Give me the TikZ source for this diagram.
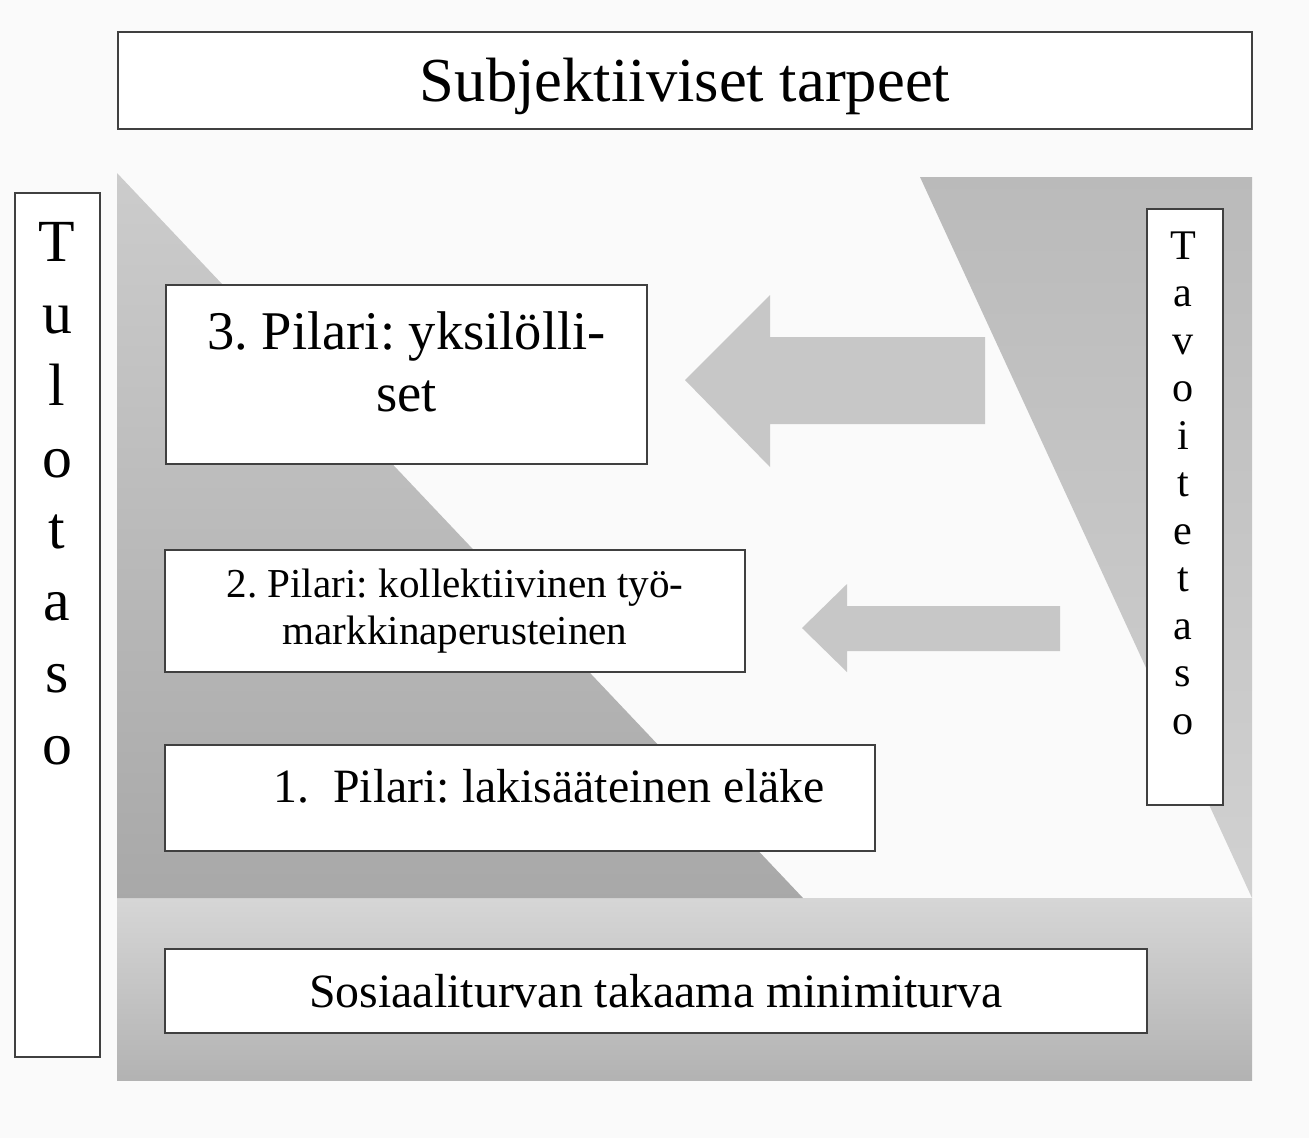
\documentclass[tikz,border=0pt]{standalone}
\usepackage{fontspec}
\setmainfont{Liberation Serif}
\frenchspacing
\begin{document}
\begin{tikzpicture}[x=0.01cm, y=-0.01cm,
    box/.style={draw=black!75, fill=white, line width=0.6pt},
    blockarrow/.style={fill=black!22},
    letters/.style={align=center, inner sep=0pt, anchor=north}]
  \fill[black!2] (0,0) rectangle (1309,1138);
  % Grey areas
  \shade[top color=black!16, bottom color=black!30] (117,898) rectangle (1252,1080);
  \shade[top color=black!20, bottom color=black!34] (117,173) -- (803,898) -- (117,898) -- cycle;
  \shade[top color=black!27, bottom color=black!18] (920,177) -- (1252,177) -- (1252,898) -- cycle;
  % Arrows
  \fill[blockarrow] (985,337) -- (770,337) -- (770,295) -- (685,380) -- (770,467) -- (770,424) -- (985,424) -- cycle;
  \fill[blockarrow] (1060,606) -- (847,606) -- (847,584) -- (802,628) -- (847,672) -- (847,651) -- (1060,651) -- cycle;
  % Top
  \filldraw[box] (118,32) rectangle (1252,129) node[pos=.5, yshift=-0.06cm, font=\fontsize{17.8}{21}\selectfont] (needs) {Subjektiiviset tarpeet};
  % Side boxes
  \filldraw[box] (15,193) rectangle (100,1057);
  \node[letters, font=\fontsize{17}{20.4}\selectfont] (income) at (57,222) {T\\u\\l\\o\\t\\a\\s\\o};
  \filldraw[box] (1147,209) rectangle (1223,805);
  \node[letters, font=\fontsize{12}{13.5}\selectfont] (target) at (1183,231) {T\\a\\v\\o\\i\\t\\e\\t\\a\\s\\o};
  % Pillars
  \filldraw[box] (166,285) rectangle (647,464) node[pos=.5, yshift=0.13cm, align=center, font=\fontsize{15.5}{17.6}\selectfont] (third) {3. Pilari: yksilölli-\\set};
  \filldraw[box] (165,550) rectangle (745,672) node[pos=.5, align=center, font=\fontsize{11.7}{13.6}\selectfont] (second) {2. Pilari: kollektiivinen työ-\\markkinaperusteinen};
  \filldraw[box] (165,745) rectangle (875,851);
  \node[font=\fontsize{13.6}{16}\selectfont] (first) at (549,786) {1.\enspace Pilari: lakisääteinen eläke};
  % Bottom
  \filldraw[box] (165,949) rectangle (1147,1033) node[pos=.5, font=\fontsize{13.6}{16}\selectfont] (minimum) {Sosiaaliturvan takaama minimiturva};
\end{tikzpicture}
\end{document}
